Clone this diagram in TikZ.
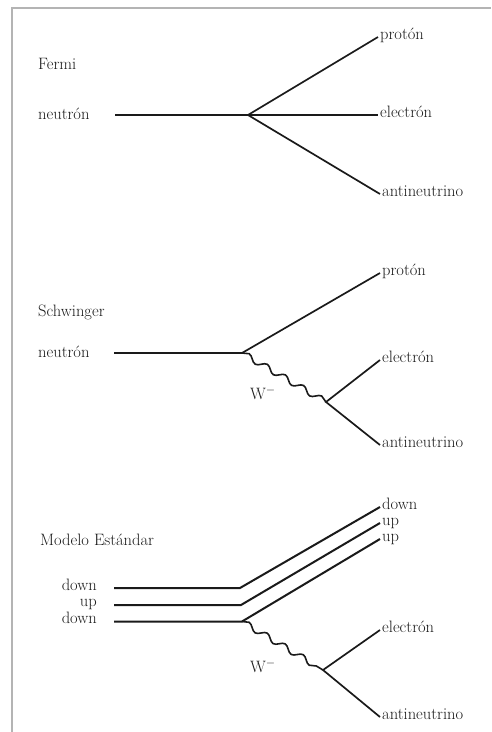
\documentclass[tikz,border=0pt]{standalone}
\usepackage{fontspec}
\usetikzlibrary{decorations.pathmorphing}
\definecolor{ink}{HTML}{1A1A1A}
\definecolor{framegray}{HTML}{B4B4B4}
\begin{document}
\begin{tikzpicture}[x=1pt,y=-1pt,
  font=\fontsize{16.5}{19}\selectfont,
  every node/.style={text=ink},
  lbl/.style={inner sep=2pt, text height=0.7em, text depth=0.2em},
  rlbl/.style={lbl, anchor=west},
  llbl/.style={lbl, anchor=east},
  ttl/.style={inner sep=0pt, anchor=base west},
  ln/.style={draw=ink, line width=1.7pt},
  thick ln/.style={draw=ink, line width=2.4pt},
  boson/.style={draw=ink, line width=1.6pt, decorate,
    decoration={snake, amplitude=3pt, segment length=21pt}},
  frame/.style={draw=framegray, line width=2pt}]
\useasboundingbox (0,0) rectangle (491,732);
\draw[frame] (12,732) -- (12,8) -- (491,8);

% ---------- Fermi ----------
\node[ttl] (fermi) at (38,69) {Fermi};
\node[llbl, anchor=west] (fn) at (36,117) {neutrón};
\coordinate (fs) at (115,115);
\coordinate (fv) at (248,115);
\node[rlbl] (fp) at (378,37) {protón};
\node[rlbl] (fe) at (378,115) {electrón};
\node[rlbl] (fa) at (380,194) {antineutrino};
\draw[thick ln] (fs) -- (fv) -- (fe.west);
\draw[ln] (fv) -- (fp.west);
\draw[ln] (fv) -- (fa.west);

% ---------- Schwinger ----------
\node[ttl] (sch) at (38,316) {Schwinger};
\node[llbl, anchor=west] (sn) at (36,355) {neutrón};
\coordinate (ss) at (114,353);
\coordinate (sv) at (242,353);
\coordinate (sw) at (326,402);
\node[rlbl] (sp) at (380,273) {protón};
\node[rlbl] (se) at (380,360) {electrón};
\node[rlbl] (sa) at (380,445) {antineutrino};
\node[inner sep=0pt] (sW) at (263,393) {W$^-$};
\draw[ln] (ss) -- (sv) -- (sp.west);
\draw[boson] (sv) -- (sw);
\draw[ln] (se.west) -- (sw) -- (sa.west);

% ---------- Modelo Estándar ----------
\node[ttl] (me) at (40,545) {Modelo Estándar};
\node[llbl] (md1) at (99,588) {down};
\node[llbl] (mu) at (99,604) {up};
\node[llbl] (md2) at (99,621) {down};
\coordinate (ms1) at (114,588);
\coordinate (ms2) at (114,605);
\coordinate (ms3) at (114,621.5);
\coordinate (mb1) at (240,588);
\coordinate (mb2) at (241,605);
\coordinate (mb3) at (242,621.5);
\node[rlbl] (mo1) at (380,507) {down};
\node[rlbl] (mo2) at (380,523) {up};
\node[rlbl] (mo3) at (380,539) {up};
\coordinate (mw) at (323,670);
\node[rlbl] (mel) at (380,630) {electrón};
\node[rlbl] (man) at (380,717) {antineutrino};
\node[inner sep=0pt] (mW) at (263,666) {W$^-$};
\draw[ln, line width=2pt] (ms1) -- (mb1) -- (mo1.west);
\draw[ln, line width=2pt] (ms2) -- (mb2) -- (mo2.west);
\draw[ln, line width=2pt] (ms3) -- (mb3) -- (mo3.west);
\draw[boson] (mb3) -- (mw);
\draw[ln] (mel.west) -- (mw) -- (man.west);
\end{tikzpicture}
\end{document}
